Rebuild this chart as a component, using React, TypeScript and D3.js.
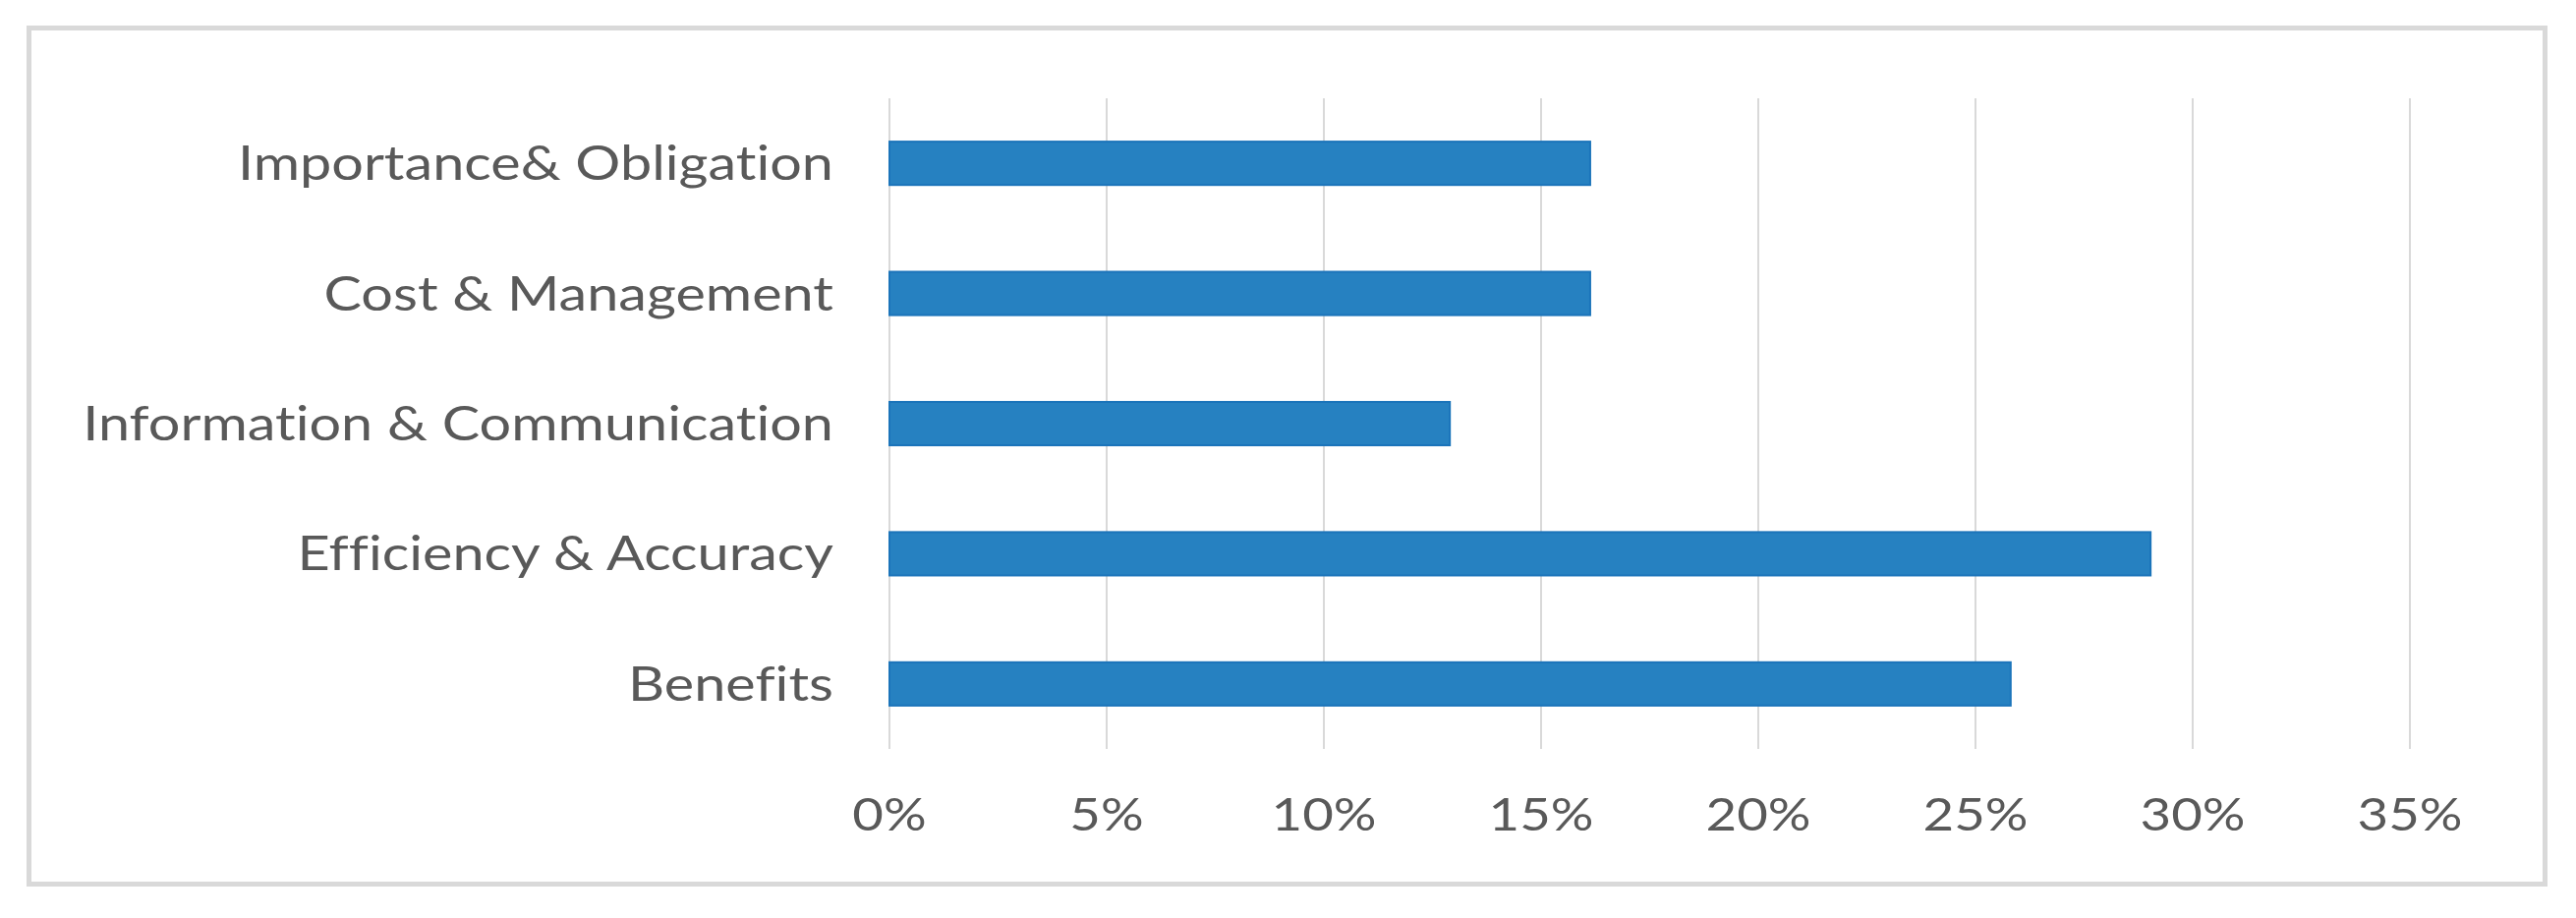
import React, { useLayoutEffect, useRef, useState } from "react";
import * as d3 from "d3";

const categories = [
  "Importance& Obligation",
  "Cost & Management",
  "Information & Communication",
  "Efficiency & Accuracy",
  "Benefits",
];
const values = [0.1613, 0.1613, 0.129, 0.2903, 0.2581];
const xTicks = [0, 0.05, 0.1, 0.15, 0.2, 0.25, 0.3, 0.35];

const W = 2621;
const H = 934;
const FONT = "Lato, 'Open Sans', sans-serif";
const LABEL_RIGHT = 848;
const LABEL_TARGET_W = 764; // width of the longest category label
const TICK_TARGET_W = 107; // width of the "35%" tick label

export default function App() {
  const x = d3.scaleLinear().domain([0, 0.35]).range([905, 2452]);
  const y = d3
    .scaleBand<string>()
    .domain(categories)
    .range([100, 762])
    .paddingInner(0.667)
    .paddingOuter(0.333);
  const fmt = d3.format(".0%");
  const longRef = useRef<SVGTextElement>(null);
  const tickRef = useRef<SVGTextElement>(null);
  const [kL, setKL] = useState(1);
  const [kT, setKT] = useState(1);

  useLayoutEffect(() => {
    if (longRef.current) {
      const w = longRef.current.getComputedTextLength();
      if (w > 0) setKL(LABEL_TARGET_W / w);
    }
    if (tickRef.current) {
      const w = tickRef.current.getComputedTextLength();
      if (w > 0) setKT(TICK_TARGET_W / w);
    }
  }, []);

  const longest = categories[2];
  const lastTick = xTicks[xTicks.length - 1];

  return (
    <svg
      width={W}
      height={H}
      style={{ position: "absolute", left: 0, top: 0, background: "#fff" }}
    >
      <rect x={0} y={0} width={W} height={H} fill="#ffffff" />
      <rect
        x={29.5}
        y={28.5}
        width={2560}
        height={871}
        fill="#ffffff"
        stroke="#d9d9d9"
        strokeWidth={5}
      />
      {xTicks.map((t) => (
        <line
          key={"g" + t}
          x1={x(t)}
          x2={x(t)}
          y1={100}
          y2={762}
          stroke="#d9d9d9"
          strokeWidth={2}
        />
      ))}
      {categories.map((c, i) => (
        <rect
          key={"b" + c}
          x={x(0)}
          y={y(c)!}
          width={x(values[i]) - x(0)}
          height={y.bandwidth()}
          fill="#2681c1"
          stroke="#1b74ba"
          strokeWidth={2}
        />
      ))}
      <g
        fontFamily={FONT}
        fill="#595959"
        style={{ fontVariantLigatures: "none" }}
      >
        {categories.map((c) => {
          const cy = y(c)! + y.bandwidth() / 2 + 17;
          return (
            <text
              key={"l" + c}
              ref={c === longest ? longRef : undefined}
              x={0}
              y={0}
              textAnchor="end"
              fontSize={48}
              transform={`translate(${LABEL_RIGHT},${cy}) scale(${kL},1)`}
            >
              {c}
            </text>
          );
        })}
        {xTicks.map((t) => (
          <text
            key={"t" + t}
            ref={t === lastTick ? tickRef : undefined}
            x={0}
            y={0}
            textAnchor="middle"
            fontSize={47}
            transform={`translate(${x(t)},845) scale(${kT},1)`}
          >
            {fmt(t)}
          </text>
        ))}
      </g>
    </svg>
  );
}
